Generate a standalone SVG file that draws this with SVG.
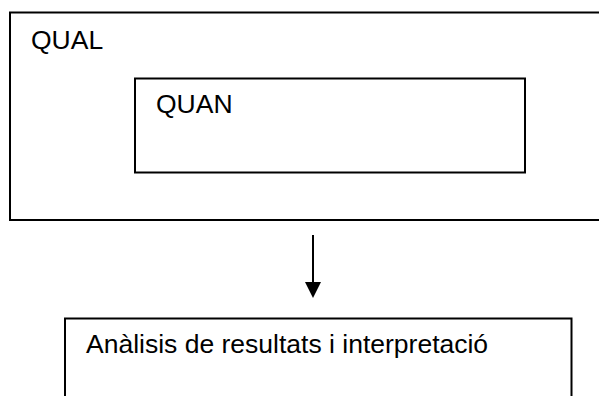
<svg xmlns="http://www.w3.org/2000/svg" width="599" height="396" viewBox="0 0 599 396">
<style>
.box{fill:none;stroke:#000;stroke-width:2}
.t{font-family:"Liberation Sans",Arial,sans-serif;font-size:26.5px;fill:#000}
.c{stroke:#000;stroke-width:2;fill:none}
</style>
<rect width="599" height="396" fill="#fff"/>
<g id="qual">
<rect class="box" x="10" y="12.5" width="600" height="207.5"/>
<text class="t" x="31" y="48.5">QUAL</text>
</g>
<g id="quan">
<rect class="box" x="135" y="78.5" width="390" height="94"/>
<text class="t" x="156" y="113">QUAN</text>
</g>
<g id="connectors">
<line class="c" x1="313" y1="235" x2="313" y2="283"/>
<path d="M305,282 L321,282 L313,298 Z" fill="#000"/>
</g>
<g id="analisi">
<rect class="box" x="65" y="318.5" width="506.5" height="100"/>
<text class="t" x="86" y="353">Anàlisis de resultats i interpretació</text>
</g>
</svg>
